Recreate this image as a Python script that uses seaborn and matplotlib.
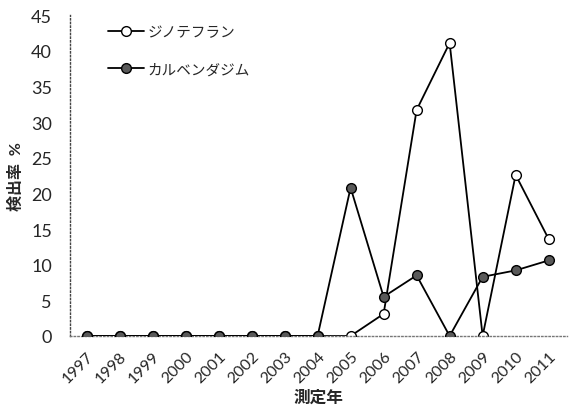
import numpy as np
import pandas as pd
import matplotlib
matplotlib.use('Agg')
import matplotlib.pyplot as plt
import seaborn as sns
from matplotlib.ticker import MultipleLocator

# %% data
years = list(range(1997, 2012))
dinotefuran = [0, 0, 0, 0, 0, 0, 0, 0, 0, 3.1, 31.7, 41.1, 0, 22.6, 13.6]
carbendazim = [0, 0, 0, 0, 0, 0, 0, 0, 20.8, 5.5, 8.5, 0, 8.3, 9.2, 10.6]
series_names = ['ジノテフラン', 'カルベンダジム']

# %% plot
sns.set_style('white')
plt.rcParams['font.family'] = ['Lato', 'Noto Sans CJK JP', 'DejaVu Sans']

fig = plt.figure(figsize=(5.73, 4.14), dpi=100)
ax = fig.add_axes([0.1222, 0.186, 0.867, 0.775])

sns.lineplot(x=years, y=dinotefuran, ax=ax, color='black', lw=1.3,
             marker='o', markersize=7, markerfacecolor='white',
             markeredgecolor='black', markeredgewidth=1.0,
             label=series_names[0], zorder=2)
sns.lineplot(x=years, y=carbendazim, ax=ax, color='black', lw=1.3,
             marker='o', markersize=7, markerfacecolor='#595959',
             markeredgecolor='black', markeredgewidth=1.0,
             label=series_names[1], zorder=3)

ax.set_xlim(1996.5, 2011.55)
ax.set_ylim(0, 45)
ax.yaxis.set_major_locator(MultipleLocator(5))
ax.set_xticks(years)
ax.set_xticklabels([str(y) for y in years], rotation=45, ha='right',
                   rotation_mode='anchor', fontsize=11.5)
ax.set_xticks(np.arange(1996.5, 2012, 1), minor=True)
ax.tick_params(axis='x', which='major', length=0, pad=9)
ax.tick_params(axis='x', which='minor', length=3, width=0.6, color='#555555', direction='out')
ax.tick_params(axis='y', length=3, width=0.6, color='#555555', labelsize=13, pad=10)

for s in ['top', 'right']:
    ax.spines[s].set_visible(False)
ax.spines['left'].set_linestyle(':')
ax.spines['left'].set_color('#444444')
ax.spines['bottom'].set_linestyle(':')
ax.spines['bottom'].set_color('#777777')
ax.spines['left'].set_linewidth(1.0)
ax.spines['bottom'].set_linewidth(1.0)
ax.grid(False)

ax.set_ylabel('検出率  %', fontsize=11.5, fontweight='bold', labelpad=5)
ax.set_xlabel('測定年', fontsize=12, fontweight='bold', labelpad=3)

leg = ax.legend(loc='upper left', bbox_to_anchor=(0.05, 1.01), frameon=False,
                fontsize=10.5, handlelength=2.5, handletextpad=0.2,
                labelspacing=1.6)

fig.savefig('out.png', dpi=100)
